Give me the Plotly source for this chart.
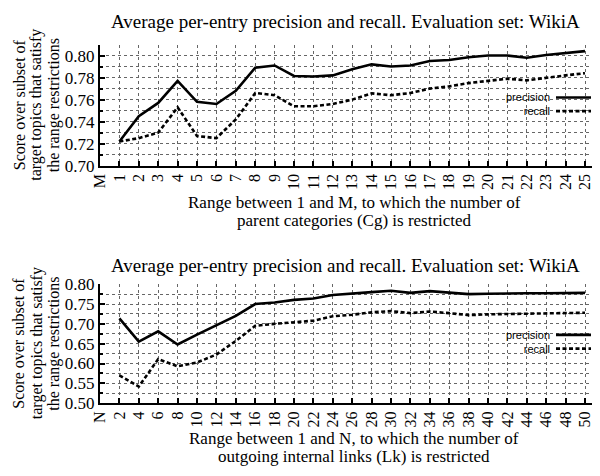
import plotly.graph_objects as go

# ---- data: plot 1 (parent categories, M) ----
m_values = list(range(1, 26))
m_precision = [0.722, 0.745, 0.757, 0.777, 0.758, 0.756, 0.768, 0.789, 0.791, 0.7815,
               0.781, 0.782, 0.7875, 0.792, 0.790, 0.791, 0.795, 0.796, 0.7985, 0.800,
               0.800, 0.798, 0.8005, 0.802, 0.804]
m_recall = [0.722, 0.725, 0.730, 0.753, 0.727, 0.725, 0.742, 0.766, 0.764, 0.754,
            0.754, 0.756, 0.760, 0.7657, 0.764, 0.766, 0.770, 0.772, 0.775, 0.777,
            0.779, 0.7775, 0.780, 0.782, 0.784]
m_tickvals = list(range(0, 26))
m_ticktext = ["M"] + [str(i) for i in range(1, 26)]

# ---- data: plot 2 (outgoing internal links, N) ----
n_values = list(range(2, 51, 2))
n_precision = [0.7137, 0.655, 0.681, 0.648, 0.673, 0.696, 0.720, 0.750, 0.754, 0.7605,
               0.764, 0.7726, 0.777, 0.780, 0.7835, 0.778, 0.7825, 0.779, 0.775, 0.776,
               0.777, 0.777, 0.777, 0.777, 0.778]
n_recall = [0.570, 0.542, 0.611, 0.593, 0.6025, 0.6226, 0.657, 0.695, 0.700, 0.704,
            0.708, 0.719, 0.723, 0.729, 0.732, 0.727, 0.731, 0.727, 0.722, 0.724,
            0.725, 0.725, 0.726, 0.727, 0.728]
n_tickvals = list(range(0, 51, 2))
n_ticktext = ["N"] + [str(i) for i in range(2, 51, 2)]

series_names = ["precision", "recall"]
title_text = "Average per-entry precision and recall. Evaluation set: WikiA"
ytitle_lines = ["Score over subset of", "target topics that satisfy", "the range restrictions"]
xtitle1_lines = ["Range between 1 and M, to which the number of", "parent categories (Cg) is restricted"]
xtitle2_lines = ["Range between 1 and N, to which the number of", "outgoing internal links (Lk) is restricted"]

OFF = 8  # page body margin
W, H = 600 - OFF, 476 - OFF
L = 100 - OFF
SERIF = "Liberation Serif"
SANS = "Liberation Sans"


def px(x):
    return (x - OFF - L) / (W - L)


def py(y):
    return 1 - (y - OFF) / H


fig = go.Figure()

line_solid = dict(color="black", width=2.6)
line_dash = dict(color="black", width=2.6, dash="4px,2.5px")

fig.add_trace(go.Scatter(x=m_values, y=m_precision, mode="lines", line=line_solid,
                         xaxis="x", yaxis="y", showlegend=False))
fig.add_trace(go.Scatter(x=m_values, y=m_recall, mode="lines", line=line_dash,
                         xaxis="x", yaxis="y", showlegend=False))
fig.add_trace(go.Scatter(x=n_values, y=n_precision, mode="lines", line=line_solid,
                         xaxis="x2", yaxis="y2", showlegend=False))
fig.add_trace(go.Scatter(x=n_values, y=n_recall, mode="lines", line=line_dash,
                         xaxis="x2", yaxis="y2", showlegend=False))

grid = dict(showgrid=True, gridcolor="#666", griddash="dot", gridwidth=1)
ytickfont = dict(family=SERIF, size=17, color="black")
xtickfont = dict(family=SERIF, size=16, color="black")

axis_common = dict(showline=True, linecolor="black", linewidth=2, ticks="inside",
                   tickcolor="black", ticklen=5, tickwidth=1.5,
                   zeroline=False, **grid)

fig.update_layout(
    width=W, height=H,
    margin=dict(l=L, r=0, t=0, b=0),
    paper_bgcolor="white", plot_bgcolor="white",
    xaxis=dict(domain=[0, 1], anchor="y", range=[0, 500 / 19.4],
               tickmode="array", tickvals=m_tickvals, ticktext=m_ticktext,
               tickangle=-90, tickfont=xtickfont, **axis_common),
    yaxis=dict(domain=[py(163), py(36.7)], anchor="x", range=[0.70, 0.81],
               tickmode="linear", tick0=0.70, dtick=0.02, tickformat=".2f", tickfont=ytickfont,
               minor=dict(dtick=0.01, showgrid=True, gridcolor="#666", griddash="dot",
                          ticks="inside", ticklen=3, tickcolor="black"),
               **axis_common),
    xaxis2=dict(domain=[0, 1], anchor="y2", range=[0, 1000 / 19.4],
                tickmode="array", tickvals=n_tickvals, ticktext=n_ticktext,
                tickangle=-90, tickfont=xtickfont, **axis_common),
    yaxis2=dict(domain=[py(410.5), py(286.5)], anchor="x2", range=[0.50, 0.80],
                tickmode="linear", tick0=0.50, dtick=0.05, tickformat=".2f", tickfont=ytickfont,
                minor=dict(dtick=0.025, showgrid=True, gridcolor="#666", griddash="dot",
                           ticks="inside", ticklen=3, tickcolor="black"),
                **axis_common),
)

ann = []
shapes = []
title_font = dict(family=SERIF, size=19, color="black")
xlabel_font = dict(family=SERIF, size=17, color="black")
ylabel_font = dict(family=SERIF, size=16, color="black")
legend_font = dict(family=SANS, size=11, color="black")
leg_gap = 0.65 * 11  # half line spacing of a two-line annotation

for (ty, yc, xt_lines, xt_y, leg_c) in [
    (12.5, 100, xtitle1_lines, (201, 220), 99),
    (266.5, 348.5, xtitle2_lines, (447.5, 466.5), 346.5),
]:
    ann.append(dict(text=title_text, x=px(345), y=py(ty), xref="paper", yref="paper",
                    xanchor="center", yanchor="middle", showarrow=False, font=title_font))
    for i, line in enumerate(ytitle_lines):
        ann.append(dict(text=line, x=px(19 + 17.5 * i), y=py(yc), xref="paper", yref="paper",
                        xanchor="center", yanchor="middle", showarrow=False, textangle=-90,
                        font=ylabel_font))
    for line, yy in zip(xt_lines, xt_y):
        ann.append(dict(text=line, x=px(354), y=py(yy), xref="paper", yref="paper",
                        xanchor="center", yanchor="middle", showarrow=False, font=xlabel_font))
    ann.append(dict(text="<br>".join(series_names), x=px(552), y=py(leg_c), xref="paper",
                    yref="paper", xanchor="right", yanchor="middle", align="right",
                    showarrow=False, font=legend_font))
    for yy, ln in zip((leg_c - leg_gap, leg_c + leg_gap), [line_solid, line_dash]):
        shapes.append(dict(type="line", xref="paper", yref="paper",
                           x0=px(556), x1=px(591), y0=py(yy), y1=py(yy),
                           line=dict(color="black", width=ln["width"], dash=ln.get("dash", "solid"))))

fig.update_layout(annotations=ann, shapes=shapes)
fig.write_html("out.html")
